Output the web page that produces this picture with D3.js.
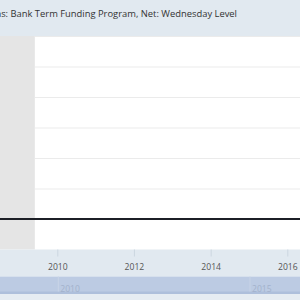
<!DOCTYPE html>
<html>
<head>
<meta charset="utf-8">
<script src="https://cdn.jsdelivr.net/npm/d3@7"></script>
<style>
  body { margin: 0; background: #fff; }
  svg { display: block; font-family: "Open Sans", sans-serif; }
</style>
</head>
<body>
<div class="chart"></div>
<script>
// series: BTFP, Net, Wednesday level (program did not exist, so zero)
const dates = ['2007-12-05', '2009-01-07', '2010-01-06', '2011-01-05', '2012-01-04',
  '2013-01-02', '2014-01-01', '2015-01-07', '2016-01-06', '2016-12-28'];
const values = [0, 0, 0, 0, 0, 0, 0, 0, 0, 0];
const recessions = [['2007-12-01', '2009-06-01']];
const yTicks = [0, 1, 2, 3, 4, 5, 6];
const xTicks = ['2010-01-01', '2012-01-01', '2014-01-01', '2016-01-01'];
const navTicks = ['2010-01-01', '2015-01-01'];
const title = 'Assets: Liquidity and Credit Facilities: Loans: Bank Term Funding Program, Net: Wednesday Level';

const parse = d3.timeParse('%Y-%m-%d');
const data = dates.map((d, i) => ({date: parse(d), value: values[i]}));

const width = 300, height = 300;
const plot = {top: 36, bottom: 249.5};

const svg = d3.select('.chart').append('svg')
  .attr('width', width)
  .attr('height', height);

// x scale anchored on the visible ticks, extends past the crop
const x = d3.scaleTime()
  .domain([parse('2010-01-01'), parse('2016-01-01')])
  .range([57.3, 287.3]);

const y = d3.scaleLinear()
  .domain([-1, 6])
  .range([plot.bottom, plot.top]);

// title band
svg.append('rect')
  .attr('x', 0).attr('y', 0)
  .attr('width', width).attr('height', plot.top)
  .attr('fill', '#e1e9f0');

svg.append('text')
  .attr('x', 237)
  .attr('y', 16.5)
  .attr('text-anchor', 'end')
  .attr('font-size', 9.4)
  .attr('fill', '#333')
  .text(title);

// plot background
svg.append('rect')
  .attr('x', 0).attr('y', plot.top)
  .attr('width', width).attr('height', plot.bottom - plot.top)
  .attr('fill', '#fff');

// recession shading
svg.selectAll('.recession')
  .data(recessions)
  .enter().append('rect')
    .attr('class', 'recession')
    .attr('x', d => x(parse(d[0])))
    .attr('width', d => x(parse(d[1])) - x(parse(d[0])))
    .attr('y', plot.top)
    .attr('height', plot.bottom - plot.top)
    .attr('fill', '#e5e5e5');

// gridlines
svg.append('g')
  .attr('transform', `translate(${x(parse('2009-06-01'))}, 0)`)
  .call(d3.axisLeft(y).tickValues(yTicks).tickSize(-width).tickFormat(''))
  .call(g => g.select('.domain').remove())
  .call(g => g.selectAll('line').attr('stroke', '#ebebeb').attr('stroke-width', 1.2));

// the line
const line = d3.line()
  .x(d => x(d.date))
  .y(d => y(d.value));

svg.append('path')
  .datum(data)
  .attr('fill', 'none')
  .attr('stroke', '#1c1f26')
  .attr('stroke-width', 2)
  .attr('d', line);

// x axis band
svg.append('rect')
  .attr('x', 0).attr('y', plot.bottom)
  .attr('width', width).attr('height', 276.5 - plot.bottom)
  .attr('fill', '#e1e9f0');

const xAxisGroup = svg.append('g')
  .attr('transform', `translate(0, ${plot.bottom})`)
  .call(d3.axisBottom(x)
    .tickValues(xTicks.map(parse))
    .tickSize(7)
    .tickPadding(7)
    .tickFormat(d3.timeFormat('%Y')));
xAxisGroup.select('.domain').remove();
xAxisGroup.selectAll('line').attr('stroke', '#ccd6e0');
xAxisGroup.selectAll('text')
  .attr('font-size', 8.6)
  .attr('fill', '#555')
  .attr('font-family', '"Open Sans", sans-serif');

// navigator
svg.append('rect')
  .attr('x', 0).attr('y', 276.5)
  .attr('width', width).attr('height', 17.5)
  .attr('fill', '#bccbe3');
svg.append('rect')
  .attr('x', 0).attr('y', 291.5)
  .attr('width', width).attr('height', 2.5)
  .attr('fill', '#aebfdb');
svg.append('rect')
  .attr('x', 0).attr('y', 294)
  .attr('width', width).attr('height', 6)
  .attr('fill', '#e6ecf2');

const nav = svg.append('g');
nav.selectAll('line')
  .data(navTicks)
  .enter().append('line')
    .attr('x1', d => x(parse(d)) + 1).attr('x2', d => x(parse(d)) + 1)
    .attr('y1', 276.5).attr('y2', 291.5)
    .attr('stroke', '#c8d4e6');
nav.selectAll('text')
  .data(navTicks)
  .enter().append('text')
    .attr('x', d => x(parse(d)) + 3)
    .attr('y', 292.3)
    .attr('font-size', 8.6)
    .attr('fill', '#a3b2cc')
    .text(d => d.slice(0, 4));
</script>
</body>
</html>
